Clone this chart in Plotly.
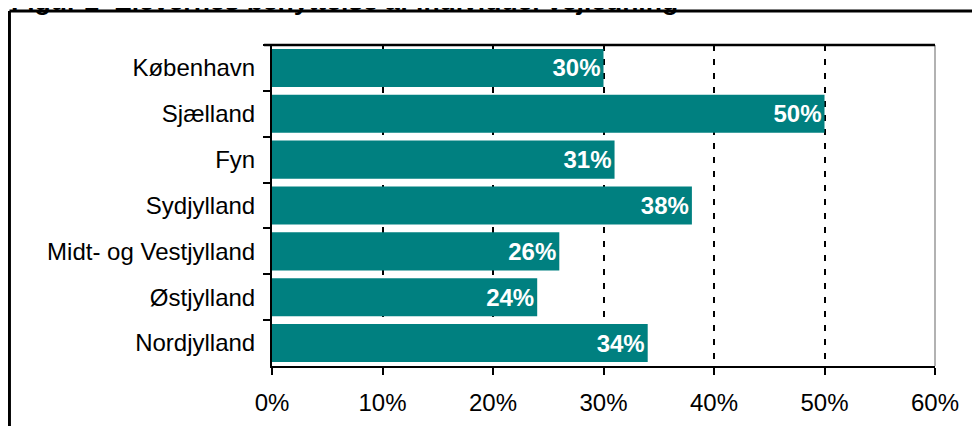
import plotly.graph_objects as go

# data
regions = ["København", "Sjælland", "Fyn", "Sydjylland",
           "Midt- og Vestjylland", "Østjylland", "Nordjylland"]
shares = [30, 50, 31, 38, 26, 24, 34]
x_ticks = [0, 10, 20, 30, 40, 50, 60]
x_ticktext = ["0%", "10%", "20%", "30%", "40%", "50%", "60%"]
title_text = "Figur 2  Elevernes benyttelse af individuel vejledning"

TEAL = "#008080"
FONT = "Liberation Sans, Arial, sans-serif"

fig = go.Figure()
fig.add_trace(go.Bar(
    x=shares, y=regions, orientation="h",
    marker=dict(color=TEAL, line_width=0),
    text=[f"{v}%" for v in shares],
    textposition="inside", insidetextanchor="end",
    textfont=dict(family=FONT, size=24, color="white", weight="bold"),
    showlegend=False,
))

# page body has an 8px margin, so the figure is 8px smaller each way
fig.update_layout(
    width=972, height=418,
    paper_bgcolor="#FFFFFF", plot_bgcolor="#FFFFFF",
    font=dict(family=FONT, size=24, color="#000000"),
    margin=dict(l=264, r=45, t=37, b=60, autoexpand=False),
    bargap=0.17,
)

fig.update_xaxes(
    range=[0, 60], tickvals=x_ticks, ticktext=x_ticktext,
    showgrid=True, gridcolor="#000000", gridwidth=1.5, griddash="6px,8px",
    showline=True, linecolor="#000000", linewidth=2,
    ticks="outside", ticklen=7, tickwidth=2, tickcolor="#000000",
    zeroline=False, fixedrange=True,
    tickfont=dict(size=24), ticklabelstandoff=7,
)
fig.update_yaxes(
    autorange="reversed", tickson="boundaries",
    showline=True, linecolor="#000000", linewidth=2,
    ticks="outside", ticklen=7, tickwidth=2, tickcolor="#000000",
    showgrid=False, zeroline=False, fixedrange=True,
    tickfont=dict(size=24), ticklabelstandoff=10,
)

# plot-area top and right edges
fig.add_shape(type="line", xref="paper", yref="paper", x0=-0.012, x1=1, y0=1, y1=1,
              line=dict(color="#000000", width=2.5))
fig.add_shape(type="line", xref="paper", yref="paper", x0=1, x1=1, y0=0, y1=1,
              line=dict(color="#999999", width=1.5), layer="below")

# outer frame (top and left, rest runs off the page)
fig.add_shape(type="line", xref="paper", yref="paper", x0=-0.396, x1=1.2, y0=1.106, y1=1.106,
              line=dict(color="#000000", width=3))
fig.add_shape(type="line", xref="paper", yref="paper", x0=-0.396, x1=-0.396, y0=1.106, y1=-0.3,
              line=dict(color="#000000", width=3))

# title, clipped by the top of the page
fig.add_annotation(
    text=f"<b>{title_text}</b>", xref="paper", yref="paper",
    x=-0.397, y=1.085, xanchor="left", yanchor="bottom", showarrow=False,
    font=dict(family=FONT, size=26.5, color="#000000"),
)

fig.write_html("out.html")
